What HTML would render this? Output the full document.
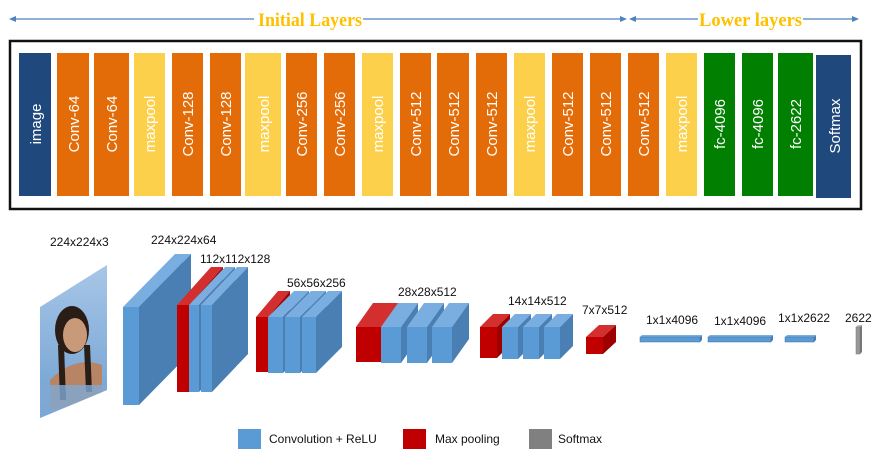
<!DOCTYPE html>
<html><head><meta charset="utf-8"><style>
html,body{margin:0;padding:0;background:#fff;}
svg{display:block;}
.bt{font-family:"Liberation Sans",sans-serif;font-size:15px;fill:#fff;}
.lb{font-family:"Liberation Sans",sans-serif;font-size:12px;fill:#111;}
.tt{font-family:"Liberation Serif",serif;font-weight:bold;font-size:19px;fill:#ffc000;}
</style></head><body>
<svg width="886" height="465" viewBox="0 0 886 465" xmlns="http://www.w3.org/2000/svg">
<defs>
<linearGradient id="sky" x1="0" y1="0" x2="0" y2="1"><stop offset="0" stop-color="#a9c8e8"/><stop offset="1" stop-color="#6f9fd0"/></linearGradient>
<clipPath id="pc"><polygon points="40,307 107,265 107,390 40,418"/></clipPath>
</defs>
<g stroke="#4f81bd" stroke-width="1.3" fill="#4f81bd">
<line x1="14" y1="19" x2="254" y2="19"/><line x1="363" y1="19" x2="622" y2="19"/>
<polygon points="9,19 16,16 16,22" stroke="none"/><polygon points="627,19 620,16 620,22" stroke="none"/>
<line x1="634" y1="19" x2="698" y2="19"/><line x1="803" y1="19" x2="854" y2="19"/>
<polygon points="629,19 636,16 636,22" stroke="none"/><polygon points="859,19 852,16 852,22" stroke="none"/>
</g>
<text class="tt" x="258" y="26" textLength="104" lengthAdjust="spacingAndGlyphs">Initial Layers</text>
<text class="tt" x="699" y="26" textLength="103" lengthAdjust="spacingAndGlyphs">Lower layers</text>
<rect x="10" y="41" width="851" height="168" fill="#fff" stroke="#111" stroke-width="2.5"/>
<g>
<rect x="19" y="53" width="32" height="143" fill="#1f497d"/>
<rect x="57" y="53" width="32" height="143" fill="#e36c09"/>
<rect x="94" y="53" width="35" height="143" fill="#e36c09"/>
<rect x="134" y="53" width="31" height="143" fill="#fdd04b"/>
<rect x="172" y="53" width="31" height="143" fill="#e36c09"/>
<rect x="210" y="53" width="31" height="143" fill="#e36c09"/>
<rect x="245" y="53" width="36" height="143" fill="#fdd04b"/>
<rect x="286" y="53" width="31" height="143" fill="#e36c09"/>
<rect x="324" y="53" width="31" height="143" fill="#e36c09"/>
<rect x="362" y="53" width="31" height="143" fill="#fdd04b"/>
<rect x="400" y="53" width="31" height="143" fill="#e36c09"/>
<rect x="437" y="53" width="32" height="143" fill="#e36c09"/>
<rect x="476" y="53" width="31" height="143" fill="#e36c09"/>
<rect x="514" y="53" width="31" height="143" fill="#fdd04b"/>
<rect x="552" y="53" width="31" height="143" fill="#e36c09"/>
<rect x="590" y="53" width="31" height="143" fill="#e36c09"/>
<rect x="628" y="53" width="31" height="143" fill="#e36c09"/>
<rect x="666" y="53" width="31" height="143" fill="#fdd04b"/>
<rect x="704" y="53" width="31" height="143" fill="#007f00"/>
<rect x="742" y="53" width="31" height="143" fill="#007f00"/>
<rect x="778" y="53" width="35" height="143" fill="#007f00"/>
<rect x="816" y="55" width="35" height="143" fill="#1f497d"/>
</g>
<g class="bt" text-anchor="middle">
<text transform="translate(41,124) rotate(-90)">image</text>
<text transform="translate(79,124) rotate(-90)">Conv-64</text>
<text transform="translate(117,124) rotate(-90)">Conv-64</text>
<text transform="translate(155,124) rotate(-90)">maxpool</text>
<text transform="translate(193,124) rotate(-90)">Conv-128</text>
<text transform="translate(231,124) rotate(-90)">Conv-128</text>
<text transform="translate(269,124) rotate(-90)">maxpool</text>
<text transform="translate(307,124) rotate(-90)">Conv-256</text>
<text transform="translate(345,124) rotate(-90)">Conv-256</text>
<text transform="translate(383,124) rotate(-90)">maxpool</text>
<text transform="translate(421,124) rotate(-90)">Conv-512</text>
<text transform="translate(459,124) rotate(-90)">Conv-512</text>
<text transform="translate(497,124) rotate(-90)">Conv-512</text>
<text transform="translate(535,124) rotate(-90)">maxpool</text>
<text transform="translate(573,124) rotate(-90)">Conv-512</text>
<text transform="translate(611,124) rotate(-90)">Conv-512</text>
<text transform="translate(649,124) rotate(-90)">Conv-512</text>
<text transform="translate(687,124) rotate(-90)">maxpool</text>
<text transform="translate(725,124) rotate(-90)">fc-4096</text>
<text transform="translate(763,124) rotate(-90)">fc-4096</text>
<text transform="translate(801,124) rotate(-90)">fc-2622</text>
<text transform="translate(840,126) rotate(-90)">Softmax</text>
</g>
<g clip-path="url(#pc)">
<rect x="40" y="260" width="70" height="160" fill="url(#sky)"/>
<ellipse cx="72" cy="330" rx="17" ry="24" fill="#2a1d16"/>
<ellipse cx="75" cy="335" rx="12" ry="17" fill="#c89a7a"/>
<path d="M50,380 Q75,355 102,365 L102,400 L50,410Z" fill="#b78466"/>
<path d="M58,345 L60,400 L66,400 L64,345Z M84,345 L86,392 L92,392 L90,345Z" fill="#2a1d16"/>
<rect x="40" y="385" width="70" height="40" fill="#7faad6" opacity="0.8"/>
</g>
<g>
<polygon points="123,307 131,307 183,254 175,254" fill="#7aaee0"/><polygon points="131,307 183,254 183,352 131,405" fill="#4a7fb3"/><rect x="123" y="307" width="8" height="98" fill="#5b9bd5"/>
<polygon points="131,307 139,307 191,254 183,254" fill="#7aaee0"/><polygon points="139,307 191,254 191,352 139,405" fill="#4a7fb3"/><rect x="131" y="307" width="8" height="98" fill="#5b9bd5"/>
<polygon points="177,305 189,305 223,267 211,267" fill="#d32f2f"/><polygon points="189,305 223,267 223,354 189,392" fill="#9e0000"/><rect x="177" y="305" width="12" height="87" fill="#c00000"/>
<polygon points="189,305 199,305 235,267 225,267" fill="#7aaee0"/><polygon points="199,305 235,267 235,354 199,392" fill="#4a7fb3"/><rect x="189" y="305" width="10" height="87" fill="#5b9bd5"/>
<polygon points="201,305 212,305 248,267 237,267" fill="#7aaee0"/><polygon points="212,305 248,267 248,354 212,392" fill="#4a7fb3"/><rect x="201" y="305" width="11" height="87" fill="#5b9bd5"/>
<polygon points="256,317 268,317 290,291 278,291" fill="#d32f2f"/><polygon points="268,317 290,291 290,346 268,372" fill="#9e0000"/><rect x="256" y="317" width="12" height="55" fill="#c00000"/>
<polygon points="268,317 283,317 309,291 294,291" fill="#7aaee0"/><polygon points="283,317 309,291 309,347 283,373" fill="#4a7fb3"/><rect x="268" y="317" width="15" height="56" fill="#5b9bd5"/>
<polygon points="285,317 300,317 326,291 311,291" fill="#7aaee0"/><polygon points="300,317 326,291 326,347 300,373" fill="#4a7fb3"/><rect x="285" y="317" width="15" height="56" fill="#5b9bd5"/>
<polygon points="302,317 316,317 342,291 328,291" fill="#7aaee0"/><polygon points="316,317 342,291 342,347 316,373" fill="#4a7fb3"/><rect x="302" y="317" width="14" height="56" fill="#5b9bd5"/>
<polygon points="356,327 381,327 398,303 373,303" fill="#d32f2f"/><polygon points="381,327 398,303 398,338 381,362" fill="#9e0000"/><rect x="356" y="327" width="25" height="35" fill="#c00000"/>
<polygon points="381,327 401,327 418,303 398,303" fill="#7aaee0"/><polygon points="401,327 418,303 418,339 401,363" fill="#4a7fb3"/><rect x="381" y="327" width="20" height="36" fill="#5b9bd5"/>
<polygon points="407,327 427,327 444,303 424,303" fill="#7aaee0"/><polygon points="427,327 444,303 444,339 427,363" fill="#4a7fb3"/><rect x="407" y="327" width="20" height="36" fill="#5b9bd5"/>
<polygon points="432,327 452,327 469,303 449,303" fill="#7aaee0"/><polygon points="452,327 469,303 469,339 452,363" fill="#4a7fb3"/><rect x="432" y="327" width="20" height="36" fill="#5b9bd5"/>
<polygon points="480,327 497,327 510,314 493,314" fill="#d32f2f"/><polygon points="497,327 510,314 510,345 497,358" fill="#9e0000"/><rect x="480" y="327" width="17" height="31" fill="#c00000"/>
<polygon points="502,327 518,327 531,314 515,314" fill="#7aaee0"/><polygon points="518,327 531,314 531,346 518,359" fill="#4a7fb3"/><rect x="502" y="327" width="16" height="32" fill="#5b9bd5"/>
<polygon points="523,327 539,327 552,314 536,314" fill="#7aaee0"/><polygon points="539,327 552,314 552,346 539,359" fill="#4a7fb3"/><rect x="523" y="327" width="16" height="32" fill="#5b9bd5"/>
<polygon points="544,327 560,327 573,314 557,314" fill="#7aaee0"/><polygon points="560,327 573,314 573,346 560,359" fill="#4a7fb3"/><rect x="544" y="327" width="16" height="32" fill="#5b9bd5"/>
<polygon points="586,337 603,337 616,325 599,325" fill="#d32f2f"/><polygon points="603,337 616,325 616,342 603,354" fill="#9e0000"/><rect x="586" y="337" width="17" height="17" fill="#c00000"/>
<polygon points="640,337 700,337 702,335 642,335" fill="#7aaee0"/><polygon points="700,337 702,335 702,340 700,342" fill="#4a7fb3"/><rect x="640" y="337" width="60" height="5" fill="#5b9bd5" stroke="#3f6f9f" stroke-width="0.5"/>
<polygon points="708,337 771,337 773,335 710,335" fill="#7aaee0"/><polygon points="771,337 773,335 773,340 771,342" fill="#4a7fb3"/><rect x="708" y="337" width="63" height="5" fill="#5b9bd5" stroke="#3f6f9f" stroke-width="0.5"/>
<polygon points="785,337 814,337 816,335 787,335" fill="#7aaee0"/><polygon points="814,337 816,335 816,340 814,342" fill="#4a7fb3"/><rect x="785" y="337" width="29" height="5" fill="#5b9bd5" stroke="#3f6f9f" stroke-width="0.5"/>
<polygon points="856,327 860,327 862,325 858,325" fill="#bbb"/><polygon points="860,327 862,325 862,352 860,354" fill="#777"/><rect x="856" y="327" width="4" height="27" fill="#999" stroke="#777" stroke-width="0.5"/>
</g>
<g class="lb">
<text x="50" y="246">224x224x3</text>
<text x="151" y="244">224x224x64</text>
<text x="200" y="263">112x112x128</text>
<text x="287" y="287">56x56x256</text>
<text x="398" y="296">28x28x512</text>
<text x="508" y="305">14x14x512</text>
<text x="582" y="314">7x7x512</text>
<text x="646" y="324">1x1x4096</text>
<text x="714" y="325">1x1x4096</text>
<text x="778" y="322">1x1x2622</text>
<text x="845" y="322">2622</text>
</g>
<rect x="238" y="429" width="23" height="20" fill="#5b9bd5"/>
<text class="lb" x="269" y="443">Convolution + ReLU</text>
<rect x="403" y="429" width="23" height="20" fill="#c00000"/>
<text class="lb" x="435" y="443">Max pooling</text>
<rect x="529" y="429" width="23" height="20" fill="#808080"/>
<text class="lb" x="558" y="443">Softmax</text>
</svg>
</body></html>
